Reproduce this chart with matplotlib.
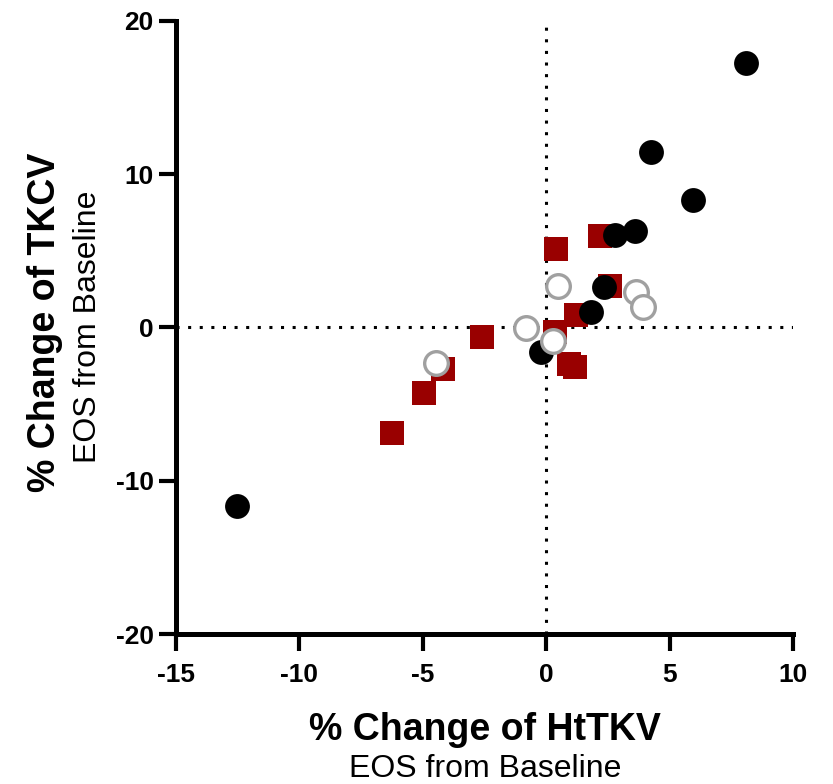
import numpy as np
import matplotlib
matplotlib.use("Agg")
import matplotlib.pyplot as plt

plt.rcParams['font.family'] = ['Liberation Sans', 'DejaVu Sans']
plt.rcParams['axes.unicode_minus'] = False

# red squares
sq_x = [0.38, 2.19, 2.59, 1.22, 0.34, -2.61, 0.91, 1.15, -4.20, -4.94, -6.24]
sq_y = [5.09, 5.96, 2.70, 0.81, -0.28, -0.65, -2.39, -2.56, -2.73, -4.30, -6.91]

# black filled circles
dot_x = [8.07, 4.24, 5.92, 2.76, 3.57, 2.32, 1.82, -0.23, -12.52]
dot_y = [17.27, 11.42, 8.31, 6.03, 6.31, 2.65, 1.02, -1.59, -11.65]

# grey open circles
open_x = [0.48, 3.64, 3.93, -0.83, 0.27, -4.47]
open_y = [2.70, 2.33, 1.35, -0.06, -0.89, -2.30]

xticks = [-15, -10, -5, 0, 5, 10]
yticks = [-20, -10, 0, 10, 20]

fig = plt.figure(figsize=(8.33, 7.84), dpi=100)
ax = fig.add_axes([0.2113, 0.1913, 0.7410, 0.7822])

# dotted zero lines
ax.axhline(0, color='black', lw=2.2, linestyle=(0, (1, 2.8)), zorder=1)
ax.axvline(0, color='black', lw=2.2, linestyle=(0, (1, 2.8)), zorder=1)

ax.scatter(sq_x, sq_y, marker='s', s=310, color='#990000', linewidths=0, zorder=3)
ax.scatter(dot_x, dot_y, marker='o', s=320, color='black', linewidths=0, zorder=4)
ax.scatter(open_x, open_y, marker='o', s=290, facecolors='white',
           edgecolors='#a0a0a0', linewidths=2.4, zorder=5)

ax.set_xlim(-15, 10)
ax.set_ylim(-20, 20)
ax.set_xticks(xticks)
ax.set_yticks(yticks)

for side in ['top', 'right']:
    ax.spines[side].set_visible(False)
for side in ['left', 'bottom']:
    ax.spines[side].set_linewidth(3.6)
ax.tick_params(width=3, length=12, labelsize=19)
ax.tick_params(axis='x', pad=9)
ax.tick_params(axis='y', pad=4)
for lab in ax.get_xticklabels() + ax.get_yticklabels():
    lab.set_fontweight('bold')

# axis titles
fig.text(485 / 833, 1 - 730 / 784, '% Change of HtTKV', ha='center', va='center',
         fontsize=27, fontweight='bold')
fig.text(485 / 833, 1 - 769 / 784, 'EOS from Baseline', ha='center', va='center',
         fontsize=23)
fig.text(45 / 833, 1 - 322 / 784, '% Change of TKCV', ha='center', va='center',
         fontsize=27, fontweight='bold', rotation=90)
fig.text(88 / 833, 1 - 327 / 784, 'EOS from Baseline', ha='center', va='center',
         fontsize=23, rotation=90)

fig.savefig('out.png', dpi=100)
